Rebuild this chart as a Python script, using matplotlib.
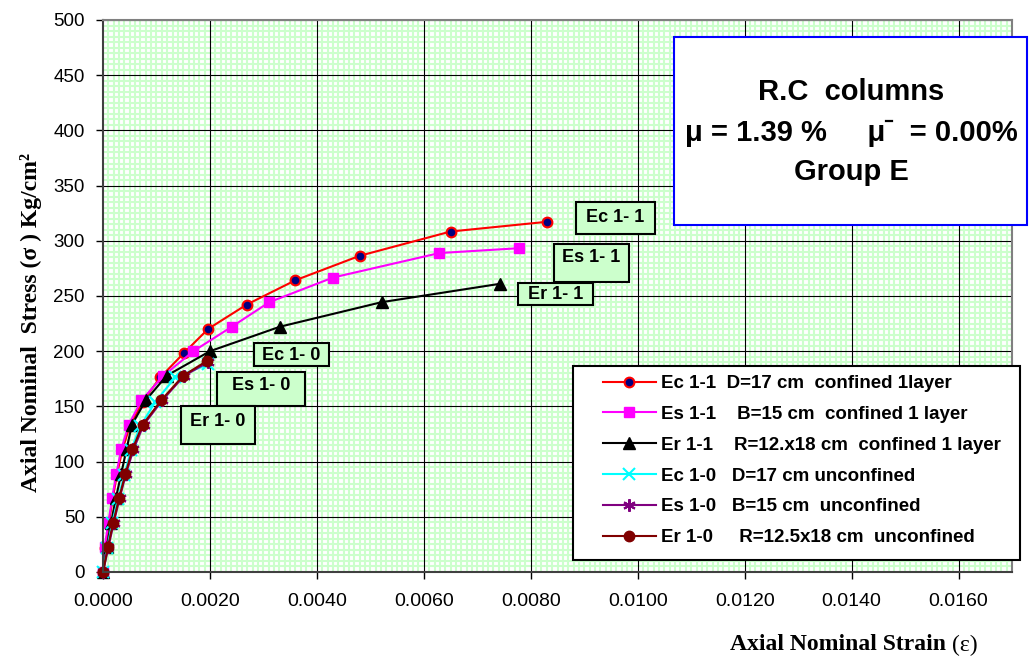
import matplotlib
matplotlib.use("Agg")
import matplotlib.pyplot as plt
from matplotlib.ticker import MultipleLocator, FormatStrFormatter
from matplotlib.patches import Rectangle
from matplotlib.lines import Line2D

# ---- data: axial strain (-) and axial stress (kg/cm2) ----
ec11_strain = [0, 0.00004, 0.00011, 0.00018, 0.00026, 0.00036, 0.00050, 0.00074,
               0.00107, 0.00151, 0.00197, 0.00269, 0.00360, 0.00480, 0.00650, 0.00830]
ec11_stress = [0, 22.0, 44.1, 66.1, 88.1, 110.1, 132.2, 154.2,
               176.2, 198.2, 220.3, 242.3, 264.3, 286.4, 308.4, 317.2]

es11_strain = [0, 0.00003, 0.00010, 0.00017, 0.00025, 0.00034, 0.00048, 0.00072,
               0.00113, 0.00169, 0.00241, 0.00311, 0.00430, 0.00629, 0.00778]
es11_stress = [0, 22.2, 44.4, 66.7, 88.9, 111.1, 133.3, 155.6,
               177.8, 200.0, 222.2, 244.4, 266.7, 288.9, 293.3]

er11_strain = [0, 0.00007, 0.00015, 0.00024, 0.00034, 0.00044, 0.00054, 0.00080,
               0.00119, 0.00200, 0.00331, 0.00521, 0.00743]
er11_stress = [0, 22.2, 44.4, 66.7, 88.9, 111.1, 133.3, 155.6,
               177.8, 200.0, 222.2, 244.4, 261.1]

ec10_strain = [0, 0.00008, 0.00017, 0.00028, 0.00040, 0.00052, 0.00070, 0.00098,
               0.00135, 0.00196]
ec10_stress = [0, 22.0, 44.1, 66.1, 88.1, 110.1, 132.2, 154.2, 176.2, 188.0]

es10_strain = [0, 0.00010, 0.00020, 0.00031, 0.00043, 0.00057, 0.00076, 0.00111,
               0.00152, 0.00196]
es10_stress = [0, 22.2, 44.4, 66.7, 88.9, 111.1, 133.3, 155.6, 177.8, 190.0]

er10_strain = [0, 0.00009, 0.00019, 0.00030, 0.00042, 0.00055, 0.00074, 0.00109,
               0.00150, 0.00194]
er10_stress = [0, 22.2, 44.4, 66.7, 88.9, 111.1, 133.3, 155.6, 177.8, 191.1]

series_labels = [
    "Ec 1-1  D=17 cm  confined 1layer",
    "Es 1-1    B=15 cm  confined 1 layer",
    "Er 1-1    R=12.x18 cm  confined 1 layer",
    "Ec 1-0   D=17 cm unconfined",
    "Es 1-0   B=15 cm  unconfined",
    "Er 1-0     R=12.5x18 cm  unconfined",
]
curve_tags = ["Ec 1- 1", "Es 1- 1", "Er 1- 1", "Ec 1- 0", "Es 1- 0", "Er 1- 0"]

x_ticks = [0.0, 0.002, 0.004, 0.006, 0.008, 0.010, 0.012, 0.014, 0.016]
y_ticks = [0, 50, 100, 150, 200, 250, 300, 350, 400, 450, 500]

# ---- figure, in pixel units ----
W, H = 1030, 659
fig = plt.figure(figsize=(W / 100, H / 100), dpi=100, facecolor="white")


def fx(x):
    return x / W


def fy(y):
    return 1 - y / H


ax = fig.add_axes([fx(103), fy(572), (1012 - 103) / W, (572 - 20) / H])
ax.set_xlim(0, 0.017)
ax.set_ylim(0, 500)

ax.xaxis.set_minor_locator(MultipleLocator(0.0001))
ax.yaxis.set_minor_locator(MultipleLocator(5))
ax.set_xticks(x_ticks)
ax.set_yticks(y_ticks)
ax.xaxis.set_major_formatter(FormatStrFormatter("%.4f"))

# light green fine grid underneath, black major grid above it
ax.set_axisbelow(True)
ax.grid(which="minor", color="#ccffcc", linewidth=1.5)
for xv in x_ticks[1:]:
    ax.axvline(xv, color="black", linewidth=0.8, zorder=0.8)
for yv in y_ticks[1:]:
    ax.axhline(yv, color="black", linewidth=0.8, zorder=0.8)

ax.tick_params(which="minor", length=0)
ax.tick_params(which="major", direction="out", length=5, width=1, color="black")
ax.tick_params(axis="x", labelsize=14, pad=10)
ax.tick_params(axis="y", labelsize=13.5, pad=8)
for lbl in ax.get_xticklabels() + ax.get_yticklabels():
    lbl.set_fontfamily("Liberation Sans")

for side in ("top", "right"):
    ax.spines[side].set_color("#808080")
    ax.spines[side].set_linewidth(1.5)
for side in ("left", "bottom"):
    ax.spines[side].set_color("#404040")
    ax.spines[side].set_linewidth(1.5)

# ---- curves ----
styles = [
    dict(color="#ff0000", marker="o", markersize=7, markerfacecolor="#000080",
         markeredgecolor="#ff0000", markeredgewidth=1.5),
    dict(color="#ff00ff", marker="s", markersize=7.5, markerfacecolor="#ff00ff",
         markeredgecolor="#ff00ff"),
    dict(color="black", marker="^", markersize=8.5, markerfacecolor="black",
         markeredgecolor="black"),
    dict(color="#00ffff", marker="x", markersize=8, markeredgewidth=1.5,
         markeredgecolor="#00ffff"),
    dict(color="#800080", marker=(6, 2, 0), markersize=9, markeredgewidth=1.5,
         markeredgecolor="#800080"),
    dict(color="#800000", marker="o", markersize=7.5, markerfacecolor="#800000",
         markeredgecolor="#800000"),
]
curves = [
    (ec11_strain, ec11_stress),
    (es11_strain, es11_stress),
    (er11_strain, er11_stress),
    (ec10_strain, ec10_stress),
    (es10_strain, es10_stress),
    (er10_strain, er10_stress),
]
handles = []
for (xs, ys), st in zip(curves, styles):
    ax.plot(xs, ys, linewidth=1.5, clip_on=False, zorder=2, **st)
    handles.append(Line2D([], [], linewidth=1.5, **st))

# ---- axis titles ----
fig.text(fx(31), fy(322), "Axial Nominal  Stress (\u03c3 ) Kg/cm\u00b2",
         rotation=90, ha="center", va="center", fontsize=17,
         fontweight="bold", family="Liberation Serif")

fig.canvas.draw()
renderer = fig.canvas.get_renderer()
eps_txt = fig.text(fx(978), fy(645), "(\u03b5)", ha="right", va="center",
                   fontsize=17, family="Liberation Serif")
eps_w = eps_txt.get_window_extent(renderer).width
fig.text(fx(978 - eps_w), fy(645), "Axial Nominal Strain ", ha="right",
         va="center", fontsize=17, fontweight="bold", family="Liberation Serif")


# ---- curve tags ----
def tag(x0, y0, x1, y1, text, ty):
    fig.add_artist(Rectangle((fx(x0), fy(y1)), (x1 - x0) / W, (y1 - y0) / H,
                             transform=fig.transFigure, facecolor="#ccffcc",
                             edgecolor="black", linewidth=1.5, zorder=3))
    fig.text(fx((x0 + x1) / 2), fy(ty), text, ha="center", va="center",
             fontsize=13, fontweight="bold", family="Liberation Sans", zorder=4)


tag_boxes = [
    (576, 202, 655, 234, 217),
    (554, 244, 629, 282, 258),
    (518, 283, 593, 305, 295),
    (254, 343, 329, 366, 356),
    (217, 372, 305, 406, 386),
    (181, 406, 255, 444, 421),
]
for (x0, y0, x1, y1, ty), t in zip(tag_boxes, curve_tags):
    tag(x0, y0, x1, y1, t, ty)

# ---- info box ----
fig.add_artist(Rectangle((fx(674), fy(225)), (1027 - 674) / W, (225 - 37) / H,
                         transform=fig.transFigure, facecolor="white",
                         edgecolor="#0000ff", linewidth=1.5, zorder=3))
info_font = dict(fontsize=21, fontweight="bold", family="Liberation Sans", zorder=4)
fig.text(fx(851), fy(92), "R.C  columns", ha="center", va="center", **info_font)
fig.text(fx(851), fy(172), "Group E", ha="center", va="center", **info_font)

# middle line: "mu = ... mu(bar) = ..." with a small raised bar after the 2nd mu
mu_left = "\u03bc = 1.39 %     \u03bc"
mu_full = mu_left + "   = 0.00%"
mu_line = fig.text(fx(851), fy(133), mu_full, ha="center", va="center", **info_font)
probe = fig.text(0, 0, mu_left, ha="left", va="center", **info_font)
x_start = mu_line.get_window_extent(renderer).x0
bar_x = x_start + probe.get_window_extent(renderer).width
probe.remove()
fig.add_artist(Line2D([(bar_x + 1) / W, (bar_x + 7) / W], [fy(121), fy(121)],
                      transform=fig.transFigure, color="black", linewidth=1.6,
                      zorder=4))

# ---- legend ----
fig.add_artist(Rectangle((fx(573), fy(560)), (1020 - 573) / W, (560 - 366) / H,
                         transform=fig.transFigure, facecolor="white",
                         edgecolor="black", linewidth=1.5, zorder=3))
leg = fig.legend(handles, series_labels, loc="upper left",
                 bbox_to_anchor=(fx(603), fy(375)), frameon=False,
                 borderpad=0, borderaxespad=0, handlelength=2.8,
                 handletextpad=0.3, labelspacing=0.73, numpoints=1,
                 prop=dict(family="Liberation Sans", weight="bold", size=13.5))
leg.set_zorder(5)

fig.savefig("out.png", dpi=100, facecolor="white")
